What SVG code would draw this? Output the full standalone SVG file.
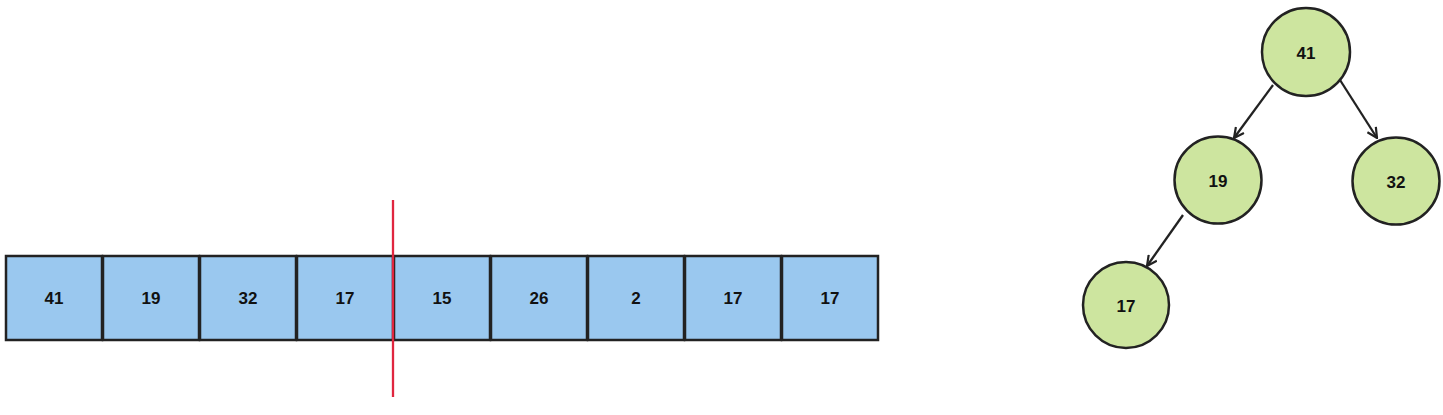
<svg xmlns="http://www.w3.org/2000/svg" width="1443" height="415" viewBox="0 0 1443 415">
<defs>
<style>
.cell{fill:#9ac8ef;stroke:#222;stroke-width:2.5}
.node{fill:#cde59f;stroke:#222;stroke-width:2.5}
.lbl{font-family:"Liberation Sans",Arial,sans-serif;font-size:17px;font-weight:bold;fill:#111;text-anchor:middle;dominant-baseline:central}
.edge{stroke:#222;stroke-width:2.3;fill:none;marker-end:url(#arr)}
</style>
<marker id="arr" viewBox="0 0 12 12" refX="11" refY="6" markerWidth="12" markerHeight="12" markerUnits="userSpaceOnUse" orient="auto">
<path d="M1,1 L11,6 L1,11" fill="none" stroke="#222" stroke-width="2.2"/>
</marker>
</defs>
<rect width="1443" height="415" fill="#fff"/>
<g id="array">
<g id="c0"><rect class="cell" x="6" y="256" width="96" height="84"/><text class="lbl" x="54" y="298">41</text></g>
<g id="c1"><rect class="cell" x="103" y="256" width="96" height="84"/><text class="lbl" x="151" y="298">19</text></g>
<g id="c2"><rect class="cell" x="200" y="256" width="96" height="84"/><text class="lbl" x="248" y="298">32</text></g>
<g id="c3"><rect class="cell" x="297" y="256" width="96" height="84"/><text class="lbl" x="345" y="298">17</text></g>
<g id="c4"><rect class="cell" x="394" y="256" width="96" height="84"/><text class="lbl" x="442" y="298">15</text></g>
<g id="c5"><rect class="cell" x="491" y="256" width="96" height="84"/><text class="lbl" x="539" y="298">26</text></g>
<g id="c6"><rect class="cell" x="588" y="256" width="96" height="84"/><text class="lbl" x="636" y="298">2</text></g>
<g id="c7"><rect class="cell" x="685" y="256" width="96" height="84"/><text class="lbl" x="733" y="298">17</text></g>
<g id="c8"><rect class="cell" x="782" y="256" width="96" height="84"/><text class="lbl" x="830" y="298">17</text></g>
</g>
<g id="divider"><line x1="393" y1="200" x2="393" y2="397" stroke="#e0263f" stroke-width="2.3"/></g>
<g id="connectors">
<line class="edge" x1="1273" y1="85" x2="1234" y2="138"/>
<line class="edge" x1="1340" y1="80" x2="1377" y2="138"/>
<line class="edge" x1="1183" y1="215" x2="1147" y2="266"/>
</g>
<g id="n41"><circle class="node" cx="1306" cy="52" r="44"/><text class="lbl" x="1306" y="53">41</text></g>
<g id="n19"><circle class="node" cx="1218" cy="180" r="43.5"/><text class="lbl" x="1218" y="181">19</text></g>
<g id="n32"><circle class="node" cx="1396" cy="181" r="43.5"/><text class="lbl" x="1396" y="182">32</text></g>
<g id="n17"><circle class="node" cx="1126" cy="305" r="43"/><text class="lbl" x="1126" y="306">17</text></g>
</svg>
